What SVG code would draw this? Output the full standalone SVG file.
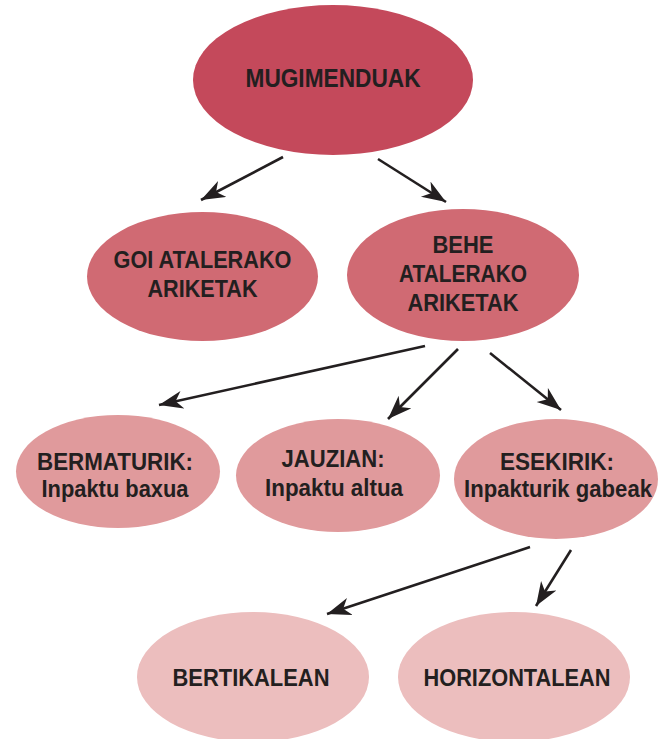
<svg xmlns="http://www.w3.org/2000/svg" width="664" height="739" viewBox="0 0 664 739">
<defs>
<style>
.t{font-family:"Liberation Sans",Arial,sans-serif;font-weight:bold;fill:#231F20;text-anchor:middle;font-size:23.5px}
.c1{fill:#C4495B}.c2{fill:#D06A73}.c3{fill:#E09A9C}.c4{fill:#ECBEBE}
.e{stroke:#231F20;stroke-width:2.6;fill:none;marker-end:url(#ah)}
</style>
<marker id="ah" markerUnits="userSpaceOnUse" markerWidth="26" markerHeight="20" refX="24" refY="9" orient="auto">
<path d="M0,0 L24,9 L0,18 L7,9 z" fill="#231F20"/>
</marker>
</defs>
<rect width="664" height="739" fill="#fff"/>
<g id="connectors">
<line class="e" x1="283" y1="157" x2="201" y2="200"/>
<line class="e" x1="378" y1="159" x2="446" y2="202"/>
<line class="e" x1="425" y1="346" x2="159" y2="405"/>
<line class="e" x1="458" y1="349" x2="388" y2="419"/>
<line class="e" x1="490" y1="353" x2="561" y2="410"/>
<line class="e" x1="530" y1="547" x2="327" y2="614"/>
<line class="e" x1="571" y1="550" x2="536" y2="606"/>
</g>
<g id="mugimenduak">
<ellipse class="c1" cx="333" cy="80" rx="140" ry="75"/>
<text class="t" x="333" y="87" style="font-size:26.5px" textLength="175" lengthAdjust="spacingAndGlyphs">MUGIMENDUAK</text>
</g>
<g id="goi">
<ellipse class="c2" cx="202.5" cy="276.5" rx="115.5" ry="64.5"/>
<text class="t" x="202.5" y="268" textLength="178" lengthAdjust="spacingAndGlyphs">GOI ATALERAKO</text>
<text class="t" x="202.5" y="297" textLength="110" lengthAdjust="spacingAndGlyphs">ARIKETAK</text>
</g>
<g id="behe">
<ellipse class="c2" cx="463" cy="275" rx="116" ry="66"/>
<text class="t" x="463" y="253" textLength="61" lengthAdjust="spacingAndGlyphs">BEHE</text>
<text class="t" x="463" y="282" textLength="128" lengthAdjust="spacingAndGlyphs">ATALERAKO</text>
<text class="t" x="463" y="311" textLength="111" lengthAdjust="spacingAndGlyphs">ARIKETAK</text>
</g>
<g id="bermaturik">
<ellipse class="c3" cx="118" cy="471.5" rx="102" ry="56.5"/>
<text class="t" x="115" y="470" textLength="156" lengthAdjust="spacingAndGlyphs">BERMATURIK:</text>
<text class="t" x="115" y="497" textLength="147" lengthAdjust="spacingAndGlyphs">Inpaktu baxua</text>
</g>
<g id="jauzian">
<ellipse class="c3" cx="338" cy="475.5" rx="102" ry="56.5"/>
<text class="t" x="333" y="467" textLength="103" lengthAdjust="spacingAndGlyphs">JAUZIAN:</text>
<text class="t" x="334" y="496" textLength="138" lengthAdjust="spacingAndGlyphs">Inpaktu altua</text>
</g>
<g id="esekirik">
<ellipse class="c3" cx="556" cy="479" rx="102" ry="60"/>
<text class="t" x="557" y="470" textLength="114" lengthAdjust="spacingAndGlyphs">ESEKIRIK:</text>
<text class="t" x="558" y="497" textLength="188" lengthAdjust="spacingAndGlyphs">Inpakturik gabeak</text>
</g>
<g id="bertikalean">
<ellipse class="c4" cx="253" cy="677" rx="116" ry="65"/>
<text class="t" x="251" y="686" textLength="157" lengthAdjust="spacingAndGlyphs">BERTIKALEAN</text>
</g>
<g id="horizontalean">
<ellipse class="c4" cx="514" cy="677" rx="116" ry="65"/>
<text class="t" x="517" y="686" textLength="187" lengthAdjust="spacingAndGlyphs">HORIZONTALEAN</text>
</g>
</svg>
